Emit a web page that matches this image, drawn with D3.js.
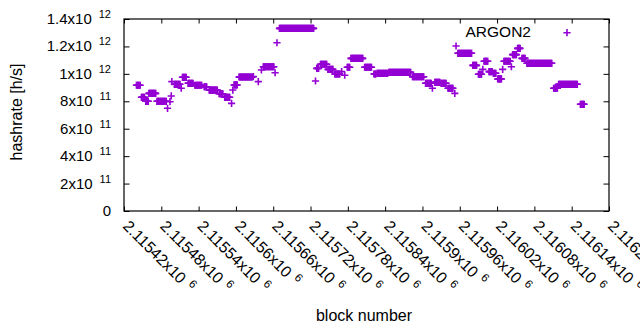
<!DOCTYPE html>
<html><head><meta charset="utf-8">
<script src="https://cdn.jsdelivr.net/npm/d3@7"></script>
<style>
body{margin:0;background:#fff}
svg{display:block}
text{font-family:"Liberation Sans",Arial,sans-serif;fill:#000}
</style>
</head><body>
<svg id="c" width="640" height="330"></svg>
<script>
// Runs of consecutive blocks sharing the same hashrate estimate
const runStart = [2115440,2115448,2115455,2115460,2115473,2115490,2115494,2115496,2115497,2115501,
  2115512,2115514,2115523,2115534,2115549,2115557,2115573,2115582,2115593,2115595,
  2115597,2115605,2115628,2115636,2115641,2115644,2115663,2115666,2115670,2115728,
  2115730,2115736,2115748,2115759,2115770,2115775,2115779,2115785,2115807,2115822,
  2115827,2115846,2115884,2115905,2115916,2115920,2115930,2115941,2115952,2115954,
  2115957,2115981,2115990,2115997,2115999,2116007,2116014,2116021,2116029,2116031,
  2116043,2116045,2116053,2116060,2116068,2116111,2116119,2116154];
const runEnd = [2115446,2115453,2115459,2115471,2115488,2115490,2115494,2115496,2115497,2115510,
  2115512,2115520,2115531,2115545,2115553,2115570,2115579,2115590,2115593,2115595,
  2115602,2115626,2115628,2115636,2115641,2115661,2115663,2115666,2115725,2115728,
  2115733,2115746,2115756,2115767,2115770,2115775,2115783,2115804,2115818,2115825,
  2115844,2115881,2115902,2115914,2115916,2115928,2115938,2115949,2115952,2115954,
  2115979,2115987,2115995,2115997,2116005,2116012,2116018,2116027,2116029,2116041,
  2116043,2116051,2116057,2116065,2116108,2116117,2116149,2116160];
const runRate = [9.17e11,8.29e11,8.00e11,8.58e11,8.00e11,7.49e11,7.97e11,8.39e11,9.43e11,9.24e11,
  8.95e11,9.75e11,9.31e11,9.17e11,9.06e11,8.82e11,8.55e11,8.29e11,7.85e11,8.82e11,
  9.19e11,9.77e11,9.80e11,9.43e11,1.028e12,1.052e12,1.008e12,1.227e12,1.332e12,9.48e11,
  1.040e12,1.070e12,1.033e12,9.99e11,1.016e12,9.90e11,1.048e12,1.113e12,1.048e12,9.99e11,
  1.004e12,1.011e12,9.79e11,9.31e11,8.95e11,9.38e11,9.31e11,8.95e11,8.58e11,1.203e12,
  1.150e12,1.062e12,9.97e11,1.033e12,1.092e12,1.016e12,1.004e12,9.63e11,1.033e12,1.092e12,
  1.052e12,1.140e12,1.186e12,1.113e12,1.077e12,8.95e11,9.24e11,7.78e11];

const xTickValues = [2115420,2115480,2115540,2115600,2115660,2115720,2115780,2115840,2115900,2115960,2116020,2116080,2116140,2116200];
const xTickMant = ["2.11542","2.11548","2.11554","2.1156","2.11566","2.11572","2.11578","2.11584","2.1159","2.11596","2.11602","2.11608","2.11614","2.1162"];
const xTickExp = ["6","6","6","6","6","6","6","6","6","6","6","6","6","6"];
const yTickValues = [0,2e11,4e11,6e11,8e11,1e12,1.2e12,1.4e12];
const yTickMant = ["0","2x10","4x10","6x10","8x10","1x10","1.2x10","1.4x10"];
const yTickExp = ["","11","11","11","11","12","12","12"];
const seriesName = "ARGON2";
const xTitle = "block number";
const yTitle = "hashrate [h/s]";

const color = "#9400d3";
const L = 124, R = 609, T = 19, B = 211;
const svg = d3.select("#c");
const x = d3.scaleLinear().domain([2115420, 2116200]).range([L, R]);
const y = d3.scaleLinear().domain([0, 1.4e12]).range([B, T]);

// ticks (inward, mirrored)
function styleAxis(g){ g.select(".domain").remove(); g.selectAll("line").attr("stroke","#000").attr("stroke-width",1); g.selectAll("text").remove(); }
svg.append("g").attr("transform",`translate(0,${B})`).call(d3.axisBottom(x).tickValues(xTickValues).tickSize(-4.5)).call(styleAxis);
svg.append("g").attr("transform",`translate(0,${T})`).call(d3.axisTop(x).tickValues(xTickValues).tickSize(-4.5)).call(styleAxis);
svg.append("g").attr("transform",`translate(${L},0)`).call(d3.axisLeft(y).tickValues(yTickValues).tickSize(-5.5)).call(styleAxis);
svg.append("g").attr("transform",`translate(${R},0)`).call(d3.axisRight(y).tickValues(yTickValues).tickSize(-5.5)).call(styleAxis);

// border
svg.append("rect").attr("x",L).attr("y",T).attr("width",R-L).attr("height",B-T)
  .attr("fill","none").attr("stroke","#000").attr("stroke-width",1.2);

// y tick labels
yTickValues.forEach((v,i)=>{
  const t = svg.append("text").attr("x",111).attr("y",y(v)+5).attr("text-anchor","end").style("font-size","15px");
  t.append("tspan").text(yTickMant[i]);
  if (yTickExp[i]) t.append("tspan").attr("dx",7).attr("dy",-6).style("font-size","11px").text(yTickExp[i]);
});

// x tick labels (rotated)
xTickValues.forEach((v,i)=>{
  const t = svg.append("text").attr("transform",`translate(${x(v)-2},${227}) rotate(45)`).style("font-size","15.8px");
  t.append("tspan").text(xTickMant[i]+"x10");
  t.append("tspan").attr("dx",6).attr("dy",-6).style("font-size","11.5px").text(xTickExp[i]);
});

// axis titles
svg.append("text").attr("transform",`translate(22,112) rotate(-90)`).attr("text-anchor","middle").style("font-size","16px").text(yTitle);
svg.append("text").attr("x",364).attr("y",321).attr("text-anchor","middle").style("font-size","16px").text(xTitle);

// data points
const pts = [];
runStart.forEach((s,i)=>{ for(let b=s;b<=runEnd[i];b++) pts.push({block:b, rate:runRate[i]}); });
const h = 3.6;
const plus = (cx,cy)=>`M${cx-h},${cy}H${cx+h}M${cx},${cy-h}V${cy+h}`;
svg.append("g").selectAll("path").data(pts).join("path")
  .attr("d",d=>plus(x(d.block),y(d.rate)))
  .attr("stroke",color).attr("stroke-width",1.6).attr("fill","none");

// legend
svg.append("text").attr("x",531).attr("y",37).attr("text-anchor","end").style("font-size","15.5px").text(seriesName);
svg.append("path").attr("d",plus(567,32.7)).attr("stroke",color).attr("stroke-width",1.6);
</script>
</body></html>
